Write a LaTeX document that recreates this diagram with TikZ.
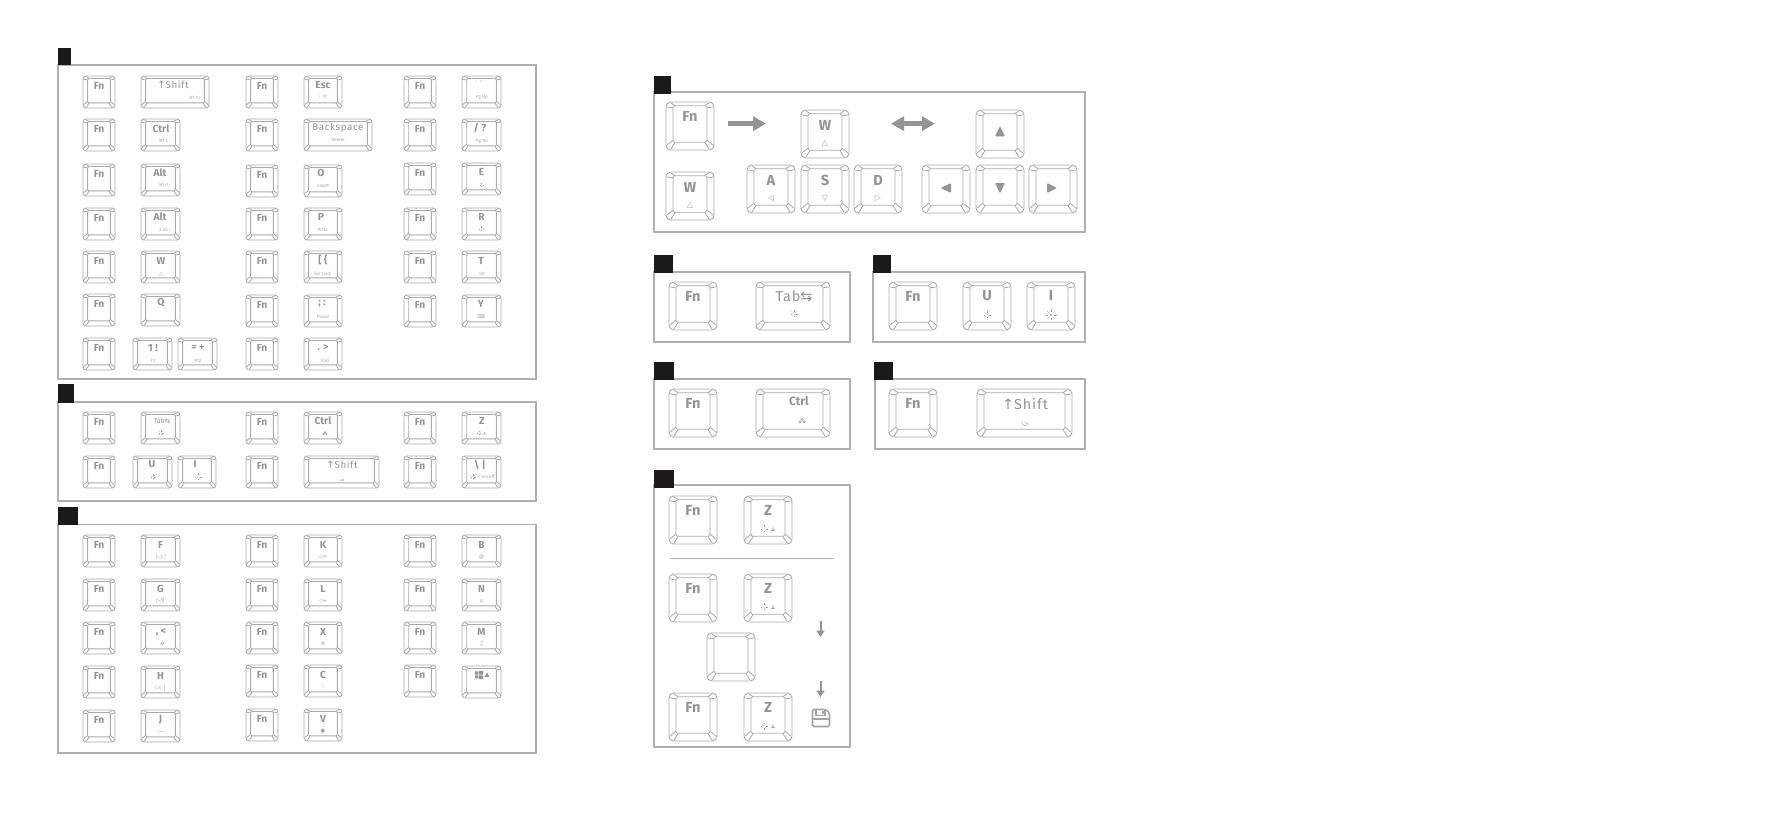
\documentclass[tikz,border=0pt]{standalone}
\usepackage{fontspec}
\setmainfont{Fira Sans}
\newfontfamily\symf{DejaVu Sans}
\usetikzlibrary{arrows.meta}
\definecolor{keyline}{HTML}{ABABAB}
\definecolor{paneline}{HTML}{B0B0B0}
\definecolor{keytext}{HTML}{949494}
\definecolor{subtext}{HTML}{A4A4A4}
\definecolor{tagfill}{HTML}{1B1A19}
\newcommand{\kfS}{\fontsize{5.1}{5.1}\bfseries\selectfont}
\newcommand{\kfB}{\fontsize{7.3}{7.3}\bfseries\selectfont}
\newcommand{\kfT}{\fontsize{4.9}{4.9}\selectfont\addfontfeature{LetterSpace=6}\color{subtext}}
\newcommand{\kfU}{\fontsize{7.2}{7.2}\selectfont\addfontfeature{LetterSpace=6}\color{subtext}}
\newcommand{\kfSub}{\fontsize{2.3}{2.3}\selectfont}
\newcommand{\kfSym}{\symf\fontsize{2.6}{2.6}\selectfont}
\newcommand{\kfSymB}{\symf\fontsize{4}{4}\selectfont}
\newcounter{kn}\newcounter{ln}\newcounter{pn}
\tikzset{
  keybox/.style={draw=keyline,line width=.48pt,rectangle,inner sep=0pt,outer sep=0pt,anchor=north west},
  keyin/.style={draw=keyline,line width=.42pt},
  lab/.style={inner sep=0pt,outer sep=0pt,text=keytext,anchor=center},
  sublab/.style={lab,text=subtext},
  panelbox/.style={draw=paneline,line width=.55pt,rectangle,inner sep=0pt,outer sep=0pt,anchor=north west},
  tagbox/.style={fill=tagfill,rectangle,inner sep=0pt,outer sep=0pt,anchor=north west},
  icon/.style={draw=subtext,line width=.17pt},
  iconf/.style={fill=subtext},
  blockarrow/.style={draw=keytext,line width=2.5pt},
  thinarrow/.style={draw=keytext,line width=1pt,-{Triangle[length=3.2pt,width=4pt]}},
}
% keycap: x y w h
\newcommand{\capk}[4]{%
  \stepcounter{kn}%
  \pgfmathsetmacro\kS{#4/48}%
  \pgfmathsetmacro\kW{#3}%
  \pgfmathsetmacro\kH{#4}%
  \pgfmathsetmacro\kA{7*\kS}%
  \pgfmathsetmacro\kT{3.7*\kS}%
  \pgfmathsetmacro\kBt{7.7*\kS}%
  \pgfmathsetmacro\kR{2.4*\kS}%
  \pgfmathsetmacro\kr{0.8*\kS}%
  \node[keybox,minimum width=#3*0.5pt,minimum height=#4*0.5pt,rounded corners=\kR pt] (k\arabic{kn}) at (#1,#2) {};
  \begin{scope}[shift={(#1,#2)}]
    \pgfmathsetmacro\kIR{\kW-\kA}%
    \pgfmathsetmacro\kIB{\kH-\kBt}%
    \draw[keyin,rounded corners=\kr pt] (\kA,\kT) rectangle (\kIR,\kIB);
    \pgfmathsetmacro\p{1*\kS}\pgfmathsetmacro\q{5*\kS}\pgfmathsetmacro\u{2.2*\kS}%
    \pgfmathsetmacro\xa{\kW-\p}\pgfmathsetmacro\xb{\kW-\q}\pgfmathsetmacro\xc{\kIR+\u}\pgfmathsetmacro\xd{\kIR-\u}%
    \pgfmathsetmacro\ya{\kH-\p}\pgfmathsetmacro\yb{\kH-\q}\pgfmathsetmacro\yc{\kIB-\u}\pgfmathsetmacro\yd{\kIB+\u}%
    \pgfmathsetmacro\le{\kA+\u}\pgfmathsetmacro\te{\kT+\u}%
    \draw[keyin] (\p,\q) -- (\kA,\te) (\q,\p) -- (\le,\kT);
    \draw[keyin] (\xa,\q) -- (\kIR,\te) (\xb,\p) -- (\xd,\kT);
    \draw[keyin] (\p,\yb) -- (\kA,\yc) (\q,\ya) -- (\le,\kIB);
    \draw[keyin] (\xa,\yb) -- (\kIR,\yc) (\xb,\ya) -- (\xd,\kIB);
  \end{scope}
}
\newcommand{\Lb}[4]{\stepcounter{ln}\node[lab,font=#3] (l\arabic{ln}) at (#1,#2) {#4};}
\newcommand{\Ls}[4]{\stepcounter{ln}\node[sublab,font=#3] (l\arabic{ln}) at (#1,#2) {#4};}
\newcommand{\FnS}[2]{\capk{#1}{#2}{32}{32}\pgfmathsetmacro\tx{#1+16}\pgfmathsetmacro\ty{#2+9.5}\Lb{\tx}{\ty}{\kfS}{Fn}}
\newcommand{\FnB}[2]{\capk{#1}{#2}{48}{48}\pgfmathsetmacro\tx{#1+24}\pgfmathsetmacro\ty{#2+14}\Lb{\tx}{\ty}{\kfB}{Fn}}
% small key with symbol sub: x y w main sub
\newcommand{\KsY}[5]{\capk{#1}{#2}{#3}{32}\pgfmathsetmacro\tx{#1+#3/2}\pgfmathsetmacro\ty{#2+10}\Lb{\tx}{\ty}{\kfS}{#4}\pgfmathsetmacro\ty{#2+22}\Ls{\tx}{\ty}{\kfSym}{#5}}
\newcommand{\Kb}[5]{\capk{#1}{#2}{#3}{48}\pgfmathsetmacro\tx{#1+#3/2}\pgfmathsetmacro\ty{#2+15}\Lb{\tx}{\ty}{\kfB}{#4}\pgfmathsetmacro\ty{#2+33.7}\Ls{\tx}{\ty}{\kfSymB}{#5}}
% sun icon: x y r
\newcommand{\sunic}[3]{\begin{scope}[shift={(#1,#2)}]
  \fill[iconf] (0,0) circle ({#3*.2});
  \foreach \ang in {0,45,...,315}{\draw[icon] ({#3*.55*cos(\ang)},{#3*.55*sin(\ang)}) -- ({#3*cos(\ang)},{#3*sin(\ang)});}
\end{scope}}
\newcommand{\personic}[3]{\begin{scope}[shift={(#1,#2)}]
  \fill[iconf] (0,{-#3*.45}) circle ({#3*.38});
  \fill[iconf] ({-#3},{#3}) -- ({-#3*.5},{#3*.2}) -- ({#3*.5},{#3*.2}) -- ({#3},{#3}) -- cycle;
\end{scope}}
\newcommand{\dotsic}[3]{\begin{scope}[shift={(#1,#2)}]
  \draw[icon,line width=.3pt] (0,{-#3*.8}) circle ({#3*.55}) ({-#3},{#3*.4}) circle ({#3*.55}) ({#3},{#3*.4}) circle ({#3*.55});
\end{scope}}
\newcommand{\gaugeic}[3]{\begin{scope}[shift={(#1,#2)}]
  \draw[icon,line width=.25pt] ({-#3},{#3*.5}) arc[start angle=-180,end angle=0,x radius=#3,y radius=-#3];
  \draw[icon,line width=.25pt] (0,{#3*.4}) -- ({#3*.7},{#3*.8});
\end{scope}}
\newcommand{\lensic}[2]{\begin{scope}[shift={(#1,#2)}]
  \draw[icon,line width=.22pt] (.4,-.5) circle (1.4);
  \draw[icon,line width=.22pt] (-.6,.6) -- (-1.6,1.8);
\end{scope}}
\begin{document}
\begin{tikzpicture}[x=0.5pt,y=-0.5pt]
\useasboundingbox (0,0) rectangle (1774,839);
\fill[white] (0,0) rectangle (1774,839);
% panels
\node[panelbox,minimum width=239pt,minimum height=157pt] (pa) at (58,65) {};
\node[tagbox,minimum width=6.5pt,minimum height=8.5pt] (ta) at (58,48) {};
\node[panelbox,minimum width=239pt,minimum height=49.5pt] (pb) at (58,402) {};
\node[tagbox,minimum width=8pt,minimum height=9.5pt] (tb) at (58,384) {};
\node[panelbox,minimum width=239pt,minimum height=114.25pt] (pc) at (58,524.5) {};
\node[tagbox,minimum width=10pt,minimum height=9pt] (tc) at (58,507) {};
\node[panelbox,minimum width=215.5pt,minimum height=70pt] (pd) at (654,92) {};
\node[tagbox,minimum width=8.5pt,minimum height=9pt] (td) at (654,76) {};
\node[panelbox,minimum width=98pt,minimum height=35pt] (pe) at (654,272) {};
\node[tagbox,minimum width=9.5pt,minimum height=9pt] (te) at (654,255) {};
\node[panelbox,minimum width=106pt,minimum height=35pt] (pf) at (873,272) {};
\node[tagbox,minimum width=9pt,minimum height=9pt] (tf) at (873,255) {};
\node[panelbox,minimum width=98pt,minimum height=35pt] (pg) at (654,379) {};
\node[tagbox,minimum width=10pt,minimum height=9pt] (tg) at (654,362) {};
\node[panelbox,minimum width=105pt,minimum height=35pt] (ph) at (875,379) {};
\node[tagbox,minimum width=9.5pt,minimum height=9pt] (th) at (874,362) {};
\node[panelbox,minimum width=98pt,minimum height=131pt] (pi) at (654,485) {};
\node[tagbox,minimum width=10pt,minimum height=9pt] (ti) at (654,470) {};
% PANEL A column 1-2
\FnS{83}{76}\FnS{83}{119}\FnS{83}{164}\FnS{83}{208}\FnS{83}{251}\FnS{83}{294}\FnS{83}{338}
\capk{141}{76}{68}{32}\Lb{173}{85}{\kfT}{{\symf ↑}Shift}\Ls{195}{97.5}{\kfSub}{BT 1 ›}
\capk{141}{119}{39}{32}\Lb{161}{129}{\kfS}{Ctrl}\Ls{165}{141}{\kfSub}{BT 2 ›}
\capk{141}{164}{39}{32}\Lb{160}{173}{\kfS}{Alt}\Ls{165}{185}{\kfSub}{BT 3 ›}
\capk{141}{208}{39}{32}\Lb{160}{217}{\kfS}{Alt}\Ls{165}{230}{\kfSub}{2.4G ›}
\capk{141}{251}{39}{32}\Lb{161}{261}{\kfS}{W}\Ls{161}{274}{\kfSym}{△}
\capk{141}{294}{39}{32}\Lb{161}{303}{\kfS}{Q}
\capk{133}{338}{39}{32}\Lb{153}{348}{\kfS}{1 !}\Ls{153}{361}{\kfSub}{F1}
\capk{178}{338}{39}{32}\Lb{198}{348}{\kfS}{= +}\Ls{198}{361}{\kfSub}{F12}
% PANEL A column 3-4
\FnS{246}{76}\FnS{246}{119}\FnS{246}{165}\FnS{246}{208}\FnS{246}{251}\FnS{246}{295}\FnS{246}{338}
\capk{304}{76}{38}{32}\Lb{323}{85}{\kfS}{Esc}\Ls{323}{97}{\kfSym}{⁝\,\,⟳}
\capk{304}{119}{68}{32}\Lb{338}{127.5}{\kfT}{Backspace}\Ls{338}{140}{\kfSub}{Delete}
\capk{304}{165}{38}{32}\Lb{321}{173}{\kfS}{O}\Ls{323}{185.5}{\kfSub}{Insert}
\capk{304}{208}{38}{32}\Lb{321}{217}{\kfS}{P}\Ls{323}{230}{\kfSub}{PrtSc}
\capk{304}{251}{38}{32}\Lb{323}{260}{\kfS}{[ \{}\Ls{323}{273.5}{\kfSub}{Scr Lock}
\capk{304}{295}{38}{32}\Lb{322}{303.5}{\kfS}{; :}\Ls{323}{317}{\kfSub}{Pause}
\capk{304}{338}{38}{32}\Lb{323}{348}{\kfS}{. >}\Ls{325}{361}{\kfSub}{End}
% PANEL A column 5-6
\FnS{404}{76}\FnS{404}{119}\FnS{404}{163}\FnS{404}{208}\FnS{404}{251}\FnS{404}{295}
\capk{462}{76}{39}{32}\Lb{479}{83}{\kfSub}{' \ "}\Ls{482}{97.5}{\kfSub}{Pg Up}
\capk{462}{119}{39}{32}\Lb{480}{128}{\kfS}{/ ?}\Ls{482}{141}{\kfSub}{Pg Dn}
\capk{462}{163}{39}{32}\Lb{481.5}{172}{\kfS}{E}\sunic{481.5}{185}{2}
\capk{462}{208}{39}{32}\Lb{481.5}{217}{\kfS}{R}\sunic{481.5}{229}{2.5}
\capk{462}{251}{39}{32}\Lb{481}{261}{\kfS}{T}\Ls{482}{274}{\kfSub}{SD}
\capk{462}{295}{39}{32}\Lb{481}{304}{\kfS}{Y}\Ls{481}{317}{\kfSym}{⌨}
% PANEL B
\FnS{83}{412}\FnS{83}{456}\FnS{246}{412}\FnS{246}{456}\FnS{404}{412}\FnS{404}{456}
\capk{141}{412}{39}{32}\Lb{162}{421}{\kfSub\fontsize{3.4}{3.4}\selectfont}{Tab{\symf ⇆}}\sunic{161}{433}{2.5}
\capk{133}{456}{39}{32}\Lb{152}{464}{\kfS}{U}\sunic{153}{477}{2.5}
\capk{178}{456}{38}{32}\Lb{195}{464}{\kfS}{I}\sunic{198}{477}{3.5}
\capk{304}{412}{38}{32}\Lb{323}{420.5}{\kfS}{Ctrl}\dotsic{325}{433.5}{1.4}
\capk{304}{456}{75}{32}\Lb{342}{465}{\kfT}{{\symf ↑}Shift}\gaugeic{342}{478}{2}
\capk{462}{412}{39}{32}\Lb{482}{421}{\kfS}{Z}\sunic{479}{433}{2}\personic{484.5}{433}{1.3}
\capk{462}{456}{39}{32}\Lb{480}{465}{\kfS}{\textbackslash\ |}\sunic{473}{477}{2.5}\Ls{488}{477}{\kfSub}{on/off}
% PANEL C
\FnS{83}{535}\FnS{83}{579}\FnS{83}{622}\FnS{83}{666}\FnS{83}{710}
\FnS{246}{535}\FnS{246}{579}\FnS{246}{622}\FnS{246}{665}\FnS{246}{709}
\FnS{404}{535}\FnS{404}{579}\FnS{404}{622}\FnS{404}{665}
\KsY{141}{535}{39}{F}{\textbar◁◁}
\KsY{141}{579}{39}{G}{▷/‖}
\capk{141}{622}{39}{32}\Lb{161}{632}{\kfS}{, <}\lensic{162}{643.5}
\KsY{141}{666}{39}{H}{▷▷\textbar}
\KsY{141}{710}{39}{J}{◁−}
\KsY{304}{535}{38}{K}{◁×}
\KsY{304}{579}{38}{L}{◁+}
\KsY{304}{622}{38}{X}{✉}
\KsY{304}{665}{38}{C}{♡}
\KsY{304}{709}{38}{V}{●}
\KsY{462}{535}{39}{B}{@}
\KsY{462}{579}{39}{N}{⌂}
\KsY{462}{622}{39}{M}{♫}
\capk{462}{666}{39}{32}
\fill[keytext] (475,671.5) rectangle (478.4,674.6) (479.2,670.8) rectangle (483,674.6) (475,675.4) rectangle (478.4,678.5) (479.2,675.4) rectangle (483,679.2);
\fill[keytext] (487,672.5) -- (489.5,677) -- (484.5,677) -- cycle;
% PANEL D
\FnB{666}{102}
\Kb{666}{172}{48}{W}{△}
\Kb{801}{110}{48}{W}{△}
\Kb{747}{165}{48}{A}{◁}
\Kb{801}{165}{48}{S}{▽}
\Kb{854}{165}{48}{D}{▷}
\capk{976}{110}{48}{48}
\capk{922}{165}{48}{48}
\capk{976}{165}{48}{48}
\capk{1029}{165}{48}{48}
\fill[keytext,rounded corners=.5pt] (1000,126) -- (1005,136.5) -- (995,136.5) -- cycle;
\fill[keytext,rounded corners=.5pt] (940.5,188) -- (951,183) -- (951,193) -- cycle;
\fill[keytext,rounded corners=.5pt] (1000,193.5) -- (995,183) -- (1005,183) -- cycle;
\fill[keytext,rounded corners=.5pt] (1057,188) -- (1047,183) -- (1047,193) -- cycle;
\coordinate (arA) at (728,123.7); \coordinate (arB) at (766,123.7);
\draw[blockarrow,-{Triangle[length=6.5pt,width=7pt]}] (arA) -- (arB);
\coordinate (arC) at (891,123.7); \coordinate (arD) at (935,123.7);
\draw[blockarrow,{Triangle[length=6.5pt,width=7pt]}-{Triangle[length=6.5pt,width=7pt]}] (arC) -- (arD);
% PANEL E F G H
\FnB{669}{282}
\capk{756}{282}{74}{48}\Lb{794}{296.7}{\kfU}{Tab{\symf ⇆}}\sunic{794}{314}{3.5}
\FnB{889}{282}
\capk{963}{282}{48}{48}\Lb{987}{295.5}{\kfB}{U}\sunic{987}{315}{3.5}
\capk{1027}{282}{48}{48}\Lb{1051}{295.5}{\kfB}{I}\sunic{1051}{315}{5.5}
\FnB{669}{389}
\capk{756}{389}{74}{48}\Lb{799}{401}{\kfS\fontsize{6}{6}\selectfont}{Ctrl}\dotsic{802}{421}{2.2}
\FnB{889}{389}
\capk{977}{389}{95}{48}\Lb{1025}{404}{\kfU}{{\symf ↑}Shift}\gaugeic{1025}{421}{3}
% PANEL I
\FnB{669}{496}
\capk{744}{496}{48}{48}\Lb{768}{510}{\kfB}{Z}\sunic{764}{529}{3.5}\personic{773}{529}{2}
\coordinate (divA) at (670,558.7); \coordinate (divB) at (834,558.7);
\draw[draw=paneline,line width=.5pt] (divA) -- (divB);
\FnB{669}{574}
\capk{744}{574}{48}{48}\Lb{768}{588}{\kfB}{Z}\sunic{764}{607}{3.5}\personic{773}{607}{2}
\capk{707}{633}{48}{48}
\FnB{669}{693}
\capk{744}{693}{48}{48}\Lb{768}{707}{\kfB}{Z}\sunic{764}{726}{3.5}\personic{773}{726}{2}
\coordinate (daA) at (820.5,621); \coordinate (daB) at (820.5,637);
\draw[thinarrow] (daA) -- (daB);
\coordinate (dbA) at (820.5,681); \coordinate (dbB) at (820.5,697);
\draw[thinarrow] (dbA) -- (dbB);
% save icon
\draw[draw=subtext,line width=.8pt,rounded corners=.8pt] (812.5,709.5) -- (826,709.5) -- (829.5,713) -- (829.5,726.5) -- (812.5,726.5) -- cycle;
\draw[draw=subtext,line width=.6pt] (816,709.5) -- (816,715.5) -- (825,715.5) -- (825,709.5) (812.5,719) -- (829.5,719);
\fill[subtext] (821.5,710.5) rectangle (823.5,714);
\end{tikzpicture}
\end{document}
